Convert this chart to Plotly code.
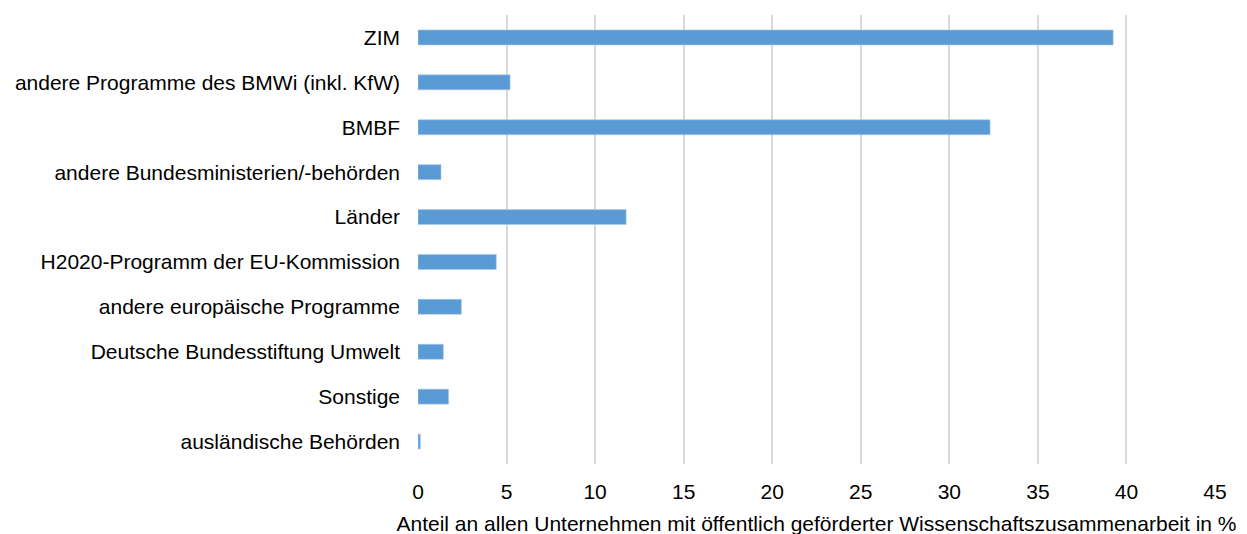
import plotly.graph_objects as go

categories = [
    "ZIM",
    "andere Programme des BMWi (inkl. KfW)",
    "BMBF",
    "andere Bundesministerien/-behörden",
    "Länder",
    "H2020-Programm der EU-Kommission",
    "andere europäische Programme",
    "Deutsche Bundesstiftung Umwelt",
    "Sonstige",
    "ausländische Behörden",
]
values = [39.25, 5.2, 32.3, 1.3, 11.75, 4.42, 2.45, 1.43, 1.73, 0.13]
x_ticks = [0, 5, 10, 15, 20, 25, 30, 35, 40, 45]
x_title = "Anteil an allen Unternehmen mit öffentlich geförderter Wissenschaftszusammenarbeit in %"

fig = go.Figure(
    go.Bar(
        x=values,
        y=categories,
        orientation="h",
        marker=dict(color="#5b9bd5", line=dict(color="#a9c9ea", width=0.6)),
        hoverinfo="x+y",
    )
)

fig.update_layout(
    width=1247,
    height=534,
    margin=dict(l=410, r=40, t=7, b=78),
    plot_bgcolor="white",
    paper_bgcolor="white",
    bargap=0.666,
    showlegend=False,
    font=dict(family="Liberation Sans, Arial, sans-serif", size=21, color="#000000"),
    xaxis=dict(
        range=[0, 45],
        tickvals=x_ticks,
        ticktext=[str(v) for v in x_ticks],
        showgrid=True,
        gridcolor="#d9d9d9",
        gridwidth=1.5,
        zeroline=False,
        showline=False,
        ticks="",
        ticklabelstandoff=13,
        tickfont=dict(size=21),
        title=dict(text=x_title, font=dict(size=21), standoff=14),
        fixedrange=True,
    ),
    yaxis=dict(
        autorange="reversed",
        showgrid=False,
        zeroline=False,
        showline=False,
        ticks="",
        ticklabelstandoff=17,
        tickfont=dict(size=21),
        fixedrange=True,
    ),
)

fig.write_html("out.html")
